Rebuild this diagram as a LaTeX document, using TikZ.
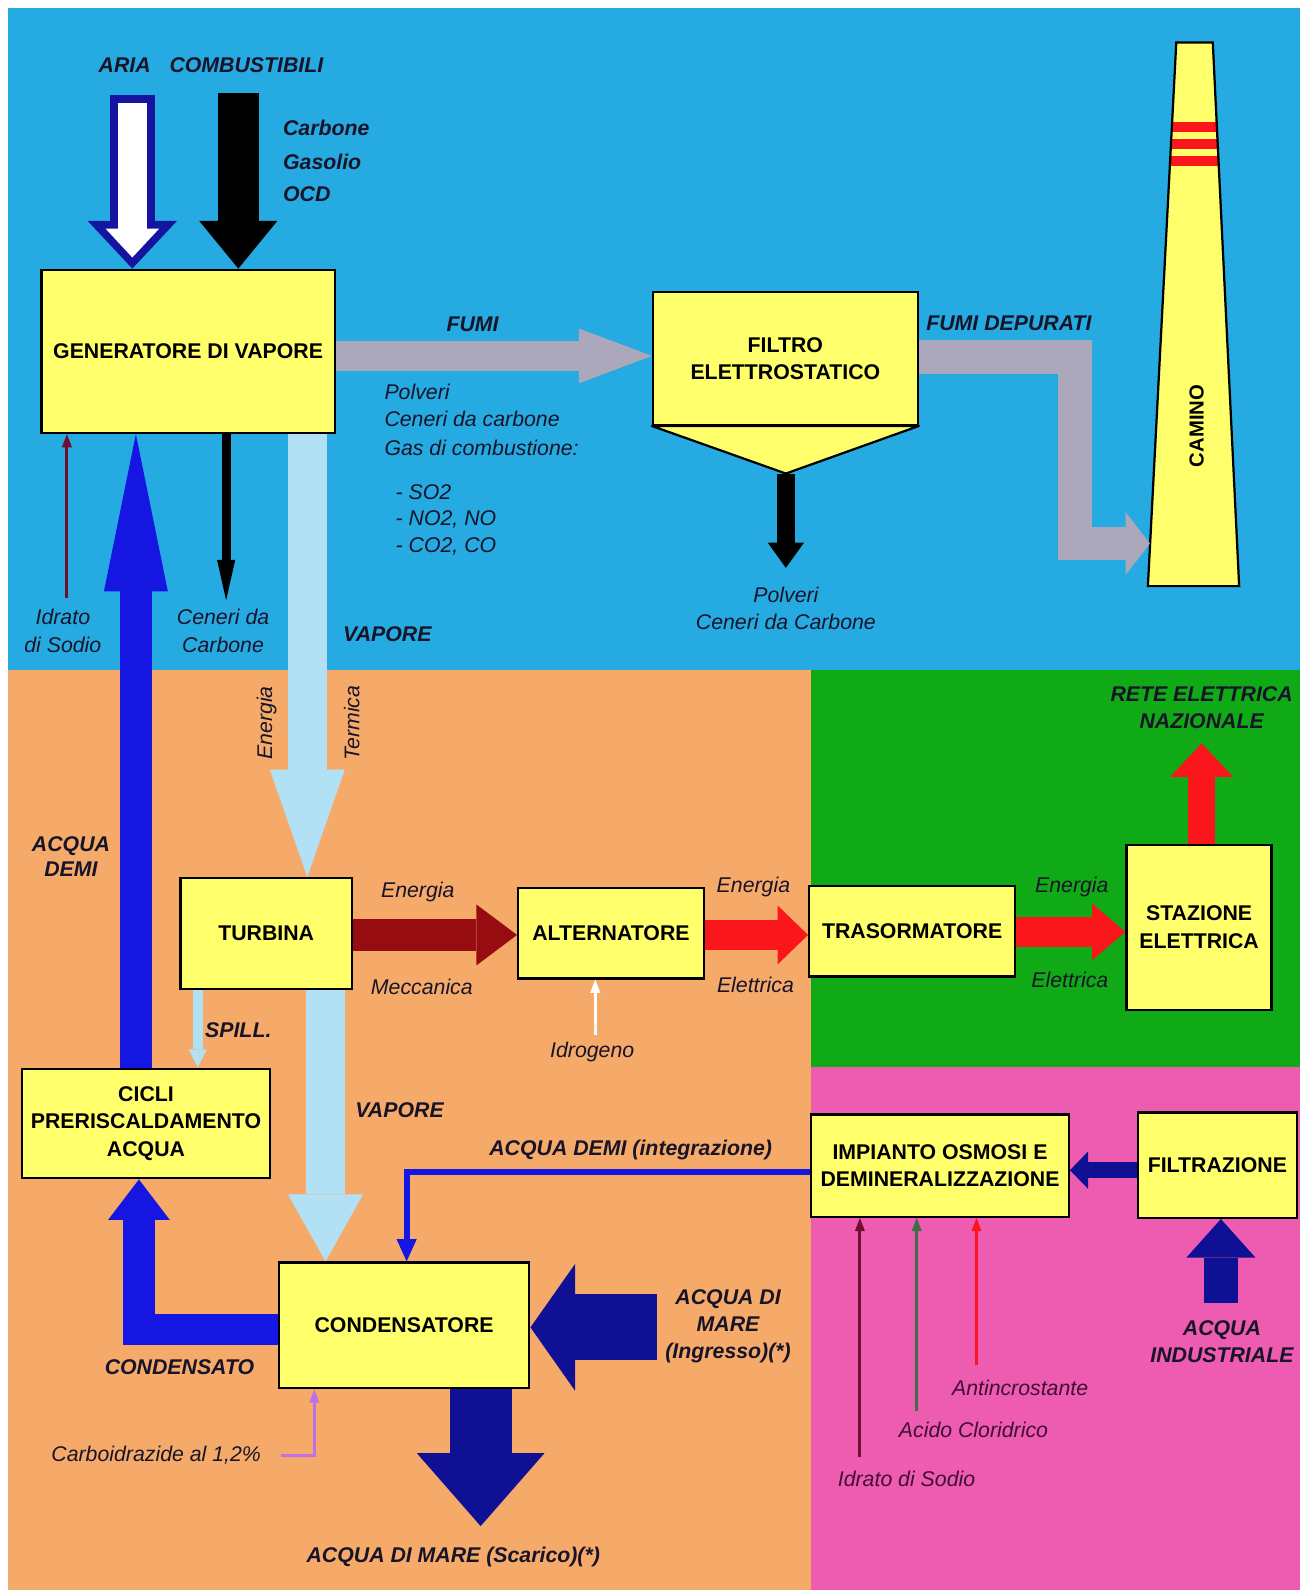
\documentclass[tikz,border=0pt]{standalone}
\usepackage{fontspec}
\setmainfont{Liberation Sans}
\usetikzlibrary{positioning,arrows.meta,calc}

\definecolor{cielo}{RGB}{38,170,226}
\definecolor{arancio}{RGB}{246,170,106}
\definecolor{verde}{RGB}{16,170,22}
\definecolor{rosa}{RGB}{238,92,178}
\definecolor{giallo}{RGB}{255,255,108}
\definecolor{fumo}{RGB}{172,168,188}
\definecolor{vapore}{RGB}{178,224,245}
\definecolor{demi}{RGB}{22,22,226}
\definecolor{mare}{RGB}{16,16,148}
\definecolor{meccanica}{RGB}{150,12,16}
\definecolor{elettrica}{RGB}{250,22,26}
\definecolor{ariablu}{RGB}{20,20,160}
\definecolor{soda}{RGB}{112,16,48}
\definecolor{acido}{RGB}{66,108,72}
\definecolor{viola}{RGB}{190,112,232}
\definecolor{scritta}{RGB}{24,20,40}
\definecolor{chimica}{RGB}{64,14,52}

\begin{document}
\begin{tikzpicture}[%
		x=1pt, y=-1pt,
		blocco/.style={%
			draw=black, line width=2.2pt, fill=giallo,
			font=\fontsize{21}{27}\selectfont\bfseries,
			align=center, inner sep=0pt
		},
		nota/.style={text=scritta, font=\fontsize{21}{27}\selectfont\itshape, align=center, inner sep=1pt},
		titolo/.style={text=scritta, font=\fontsize{21}{26}\selectfont\bfseries\itshape, align=center, inner sep=1pt},
		freccia/.style args={#1/#2/#3}{line width=#1pt, -{Triangle[length=#2pt, width=#3pt, line width=0pt]}},
		filo/.style={line width=#1pt, -{Triangle[length=13pt, width=10pt, line width=0pt]}},
		filo/.default=3
		]
		\useasboundingbox (0,0) rectangle (1282,1568);
		% zone colorate
		\fill[white]   (0,0)      rectangle (1282,1568);
		\fill[cielo]   (8,8)      rectangle (1282,661);
		\fill[arancio] (8,661)    rectangle (800,1568);
		\fill[verde]   (800,661)  rectangle (1282,1052);
		\fill[rosa]    (800,1052) rectangle (1282,1568);

		% blocchi
		\node[blocco, minimum width=289pt, minimum height=161pt] (generatore)    at (185.5,346.5) {GENERATORE DI VAPORE};
		\node[blocco, minimum width=261pt, minimum height=131pt] (filtro)        at (774.5,353.5) {FILTRO\\ELETTROSTATICO};
		\node[blocco, minimum width=169pt, minimum height=109pt] (turbina)       at (262.5,920.5) {TURBINA};
		\node[blocco, minimum width=183pt, minimum height=89pt]  (alternatore)   at (602.5,920.5) {ALTERNATORE};
		\node[blocco, minimum width=203pt, minimum height=89pt]  (trasformatore) at (899.5,918.5) {TRASORMATORE};
		\node[blocco, minimum width=143pt, minimum height=163pt] (stazione)      at (1182.5,914.5) {STAZIONE\\ELETTRICA};
		\node[blocco, minimum width=244pt, minimum height=108pt] (cicli)         at (144,1108) {CICLI\\PRERISCALDAMENTO\\ACQUA};
		\node[blocco, minimum width=247pt, minimum height=124pt] (condensatore)  at (398.5,1307) {CONDENSATORE};
		\node[blocco, minimum width=254pt, minimum height=101pt] (osmosi)        at (927,1149.5) {IMPIANTO OSMOSI E\\DEMINERALIZZAZIONE};
		\node[blocco, minimum width=157pt, minimum height=104pt] (filtrazione)   at (1200.5,1149) {FILTRAZIONE};

		% tramoggia del filtro
		\coordinate (tramoggia) at (775,467);
		\filldraw[fill=giallo, line width=2.2pt, line join=round] (filtro.south west) -- (filtro.south east) -- (tramoggia) -- cycle;

		% camino
		\coordinate (c1) at (1160,42);
		\coordinate (c2) at (1196,42);
		\coordinate (c3) at (1222,578);
		\coordinate (c4) at (1132,578);
		\fill[giallo] (c1) -- (c2) -- (c3) -- (c4) -- cycle;
		\begin{scope}
			\clip (c1) -- (c2) -- (c3) -- (c4) -- cycle;
			\foreach \y in {120,137,154}
				\fill[elettrica] (1125,\y) rectangle (1230,\y+10);
		\end{scope}
		\draw[line width=2.2pt] (c1) -- (c2) -- (c3) -- (c4) -- cycle;
		\node[font=\fontsize{20}{24}\selectfont\bfseries, rotate=90] (camino) at (1180,420) {CAMINO};

		% punti liberi
		\coordinate (aria)         at (130.5,94);
		\coordinate (combustibili) at (235,92);
		\coordinate (fumi)         at (0,351);
		\coordinate (gomito1)      at (1060,352);
		\coordinate (gomito2)      at (1060,536);
		\coordinate (ingresso)     at (1134,536);
		\coordinate (polveri)      at (775,560);
		\coordinate (soda1)        at (66,590);
		\coordinate (ceneri)       at (223,592);
		\coordinate (vap)          at (303,700);
		\coordinate (vap2)         at (321,1100);
		\coordinate (demi)         at (134,800);
		\coordinate (spill)        at (195,1010);
		\coordinate (asse)         at (0,922);
		\coordinate (asse2)        at (0,919);
		\coordinate (rete)         at (1185,733);
		\coordinate (idrogeno)     at (587,1021);
		\coordinate (integra)      at (401,1156);
		\coordinate (filt)         at (0,1154);
		\coordinate (industriale)  at (1204,1285);
		\coordinate (naoh)         at (848,1437);
		\coordinate (hcl)          at (904,1391);
		\coordinate (anti)         at (963,1346);
		\coordinate (condensato)   at (137,1311);
		\coordinate (marein)       at (648,1309);
		\coordinate (mareout)      at (474,1505);
		\coordinate (carbo)        at (277,1435);
		\coordinate (carbo2)       at (310,1435);

		% frecce
		\draw[ariablu, freccia=44/47/88] (aria) -- (aria |- generatore.north);
		\draw[white, freccia=29/28.5/53] ($(aria)+(0,7.5)$) -- ($(aria |- generatore.north)+(0,-11)$);
		\draw[black, freccia=40/47/77] (combustibili) -- (combustibili |- generatore.north);
		\draw[fumo, freccia=30/72/54] (generatore.east |- fumi) -- (filtro.west |- fumi);
		\draw[fumo, freccia=33/24/62, line join=miter] (filtro.east |- gomito1) -- (gomito1) -- (gomito2) -- (ingresso);
		\draw[black, freccia=18/25/36] (tramoggia) -- (polveri);
		\draw[soda, filo] (soda1) -- (soda1 |- generatore.south);
		\draw[black, freccia=9/40/18] (generatore.south -| ceneri) -- (ceneri);
		\draw[vapore, freccia=38/106/74] (generatore.south -| vap) -- (turbina.north -| vap);
		\draw[demi, freccia=32/155/63] (cicli.north -| demi) -- (generatore.south -| demi);
		\draw[vapore, freccia=38/66/74] (turbina.south -| vap2) -- (condensatore.north -| vap2);
		\draw[vapore, freccia=10/18/18] (turbina.south -| spill) -- (cicli.north -| spill);
		\draw[meccanica, freccia=32/40/60] (turbina.east |- asse) -- (alternatore.west |- asse);
		\draw[elettrica, freccia=30/30/58] (alternatore.east |- asse) -- (trasformatore.west |- asse);
		\draw[elettrica, freccia=30/33/56] (trasformatore.east |- asse2) -- (stazione.west |- asse2);
		\draw[elettrica, freccia=27/33/62] (stazione.north -| rete) -- (rete);
		\draw[white, filo] (idrogeno) -- (idrogeno |- alternatore.south);
		\draw[demi, line width=6pt, -{Triangle[length=22pt, width=20pt, line width=0pt]}] (osmosi.west |- integra) -- (integra) -- (integra |- condensatore.north);
		\draw[mare, freccia=16/18/37] (filtrazione.west |- filt) -- (osmosi.east |- filt);
		\draw[mare, freccia=33/38/68] (industriale) -- (industriale |- filtrazione.south);
		\draw[soda, filo] (naoh) -- (naoh |- osmosi.south);
		\draw[acido, filo] (hcl) -- (hcl |- osmosi.south);
		\draw[elettrica, filo] (anti) -- (anti |- osmosi.south);
		\draw[demi, freccia=31/40/61, line join=miter] (condensatore.west |- condensato) -- (condensato) -- (condensato |- cicli.south);
		\draw[mare, freccia=65/44/125] (marein) -- (marein -| condensatore.east);
		\draw[mare, freccia=61/72/126] (condensatore.south -| mareout) -- (mareout);
		\draw[viola, filo] (carbo) -- (carbo2) -- (carbo2 |- condensatore.south);

		% scritte
		\node[titolo] (taria)   at (123,64) {ARIA};
		\node[titolo] (tcomb)   at (243,64) {COMBUSTIBILI};
		\node[titolo, anchor=west] (tcarbone) at (278,126) {Carbone};
		\node[titolo, anchor=west] (tgasolio) at (278,160) {Gasolio};
		\node[titolo, anchor=west] (tocd)     at (278,191) {OCD};
		\node[titolo] (tfumi)   at (466,320) {FUMI};
		\node[nota, anchor=west] (tpolveri) at (378,386) {Polveri};
		\node[nota, anchor=west] (tceneri)  at (378,413) {Ceneri da carbone};
		\node[nota, anchor=west] (tgas)     at (378,442) {Gas di combustione:};
		\node[nota, anchor=west] (tso)      at (389,485) {- SO2};
		\node[nota, anchor=west] (tno)      at (389,512) {- NO2, NO};
		\node[nota, anchor=west] (tco)      at (389,539) {- CO2, CO};
		\node[titolo] (tdepurati) at (995,319) {FUMI DEPURATI};
		\node[nota] (tpolveri2) at (775,600) {Polveri\\Ceneri da Carbone};
		\node[nota] (tsoda1)    at (62,622) {Idrato\\di Sodio};
		\node[nota] (tceneri2)  at (220,622) {Ceneri da\\Carbone};
		\node[titolo] (tvapore) at (382,625) {VAPORE};
		\node[nota, rotate=90] (tenergia) at (263,713) {Energia};
		\node[nota, rotate=90] (ttermica) at (347,713) {Termica};
		\node[titolo, font=\fontsize{21}{25}\selectfont\bfseries\itshape] (tdemi) at (70,845) {ACQUA\\DEMI};
		\node[nota] (tenergia1) at (412,880) {Energia};
		\node[nota] (tmecc)     at (416,973) {Meccanica};
		\node[nota] (tenergia2) at (743,875) {Energia};
		\node[nota] (telett1)   at (745,971) {Elettrica};
		\node[nota] (tenergia3) at (1057,875) {Energia};
		\node[nota] (telett2)   at (1055,966) {Elettrica};
		\node[titolo] (trete)   at (1185,698) {RETE ELETTRICA\\NAZIONALE};
		\node[titolo] (tspill)  at (235,1016) {SPILL.};
		\node[nota] (tidrogeno) at (584,1037) {Idrogeno};
		\node[titolo] (tvapore2) at (394,1095) {VAPORE};
		\node[titolo] (tintegra) at (622,1134) {ACQUA DEMI (integrazione)};
		\node[titolo, font=\fontsize{21}{27}\selectfont\bfseries\itshape] (tmarein) at (718,1308) {ACQUA DI\\MARE\\(Ingresso)(*)};
		\node[titolo] (tcondensato) at (177,1348) {CONDENSATO};
		\node[nota] (tcarbo) at (154,1435) {Carboidrazide al 1,2\%};
		\node[titolo] (tmareout) at (447,1535) {ACQUA DI MARE (Scarico)(*)};
		\node[nota, text=chimica] (tanti) at (1006,1369) {Antincrostante};
		\node[nota, text=chimica] (thcl)  at (960,1410) {Acido Cloridrico};
		\node[nota, text=chimica] (tnaoh) at (894,1458) {Idrato di Sodio};
		\node[titolo] (tindustriale) at (1205,1323) {ACQUA\\INDUSTRIALE};
\end{tikzpicture}
\end{document}
